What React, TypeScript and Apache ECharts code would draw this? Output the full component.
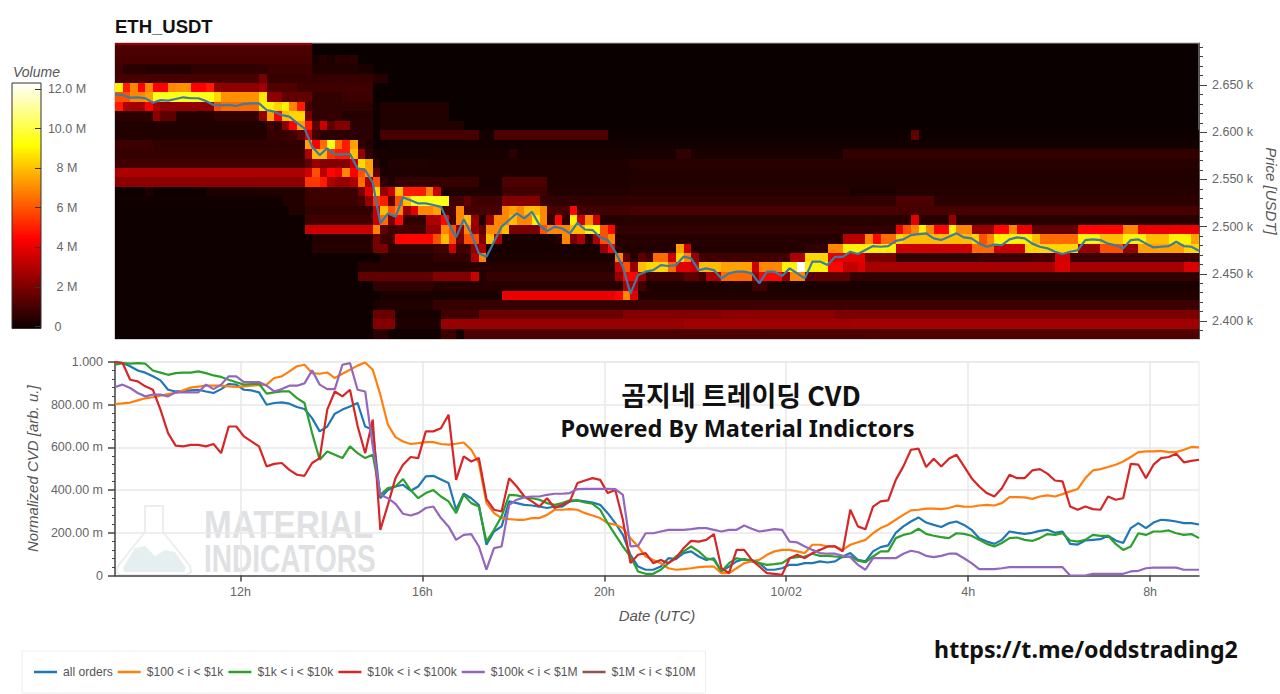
import React, { useEffect, useRef } from "react";
import * as echarts from "echarts";

// Time grid: one sample every 10 minutes, hours counted from 00:00 of the first day
const START_HOUR = 9.242;
const STEP_HOURS = 1 / 6;
const COLS = 143;
const END_HOUR = START_HOUR + COLS * STEP_HOURS;
const timeTicks = [12, 16, 20, 24, 28, 32];
const timeLabels = ["12h", "16h", "20h", "10/02", "4h", "8h"];

const priceLabels = [2400, 2450, 2500, 2550, 2600, 2650];
const priceMinorTicks = [2390, 2400, 2410, 2420, 2430, 2440, 2450, 2460, 2470, 2480, 2490, 2500, 2510, 2520, 2530, 2540, 2550, 2560, 2570, 2580, 2590, 2600, 2610, 2620, 2630, 2640, 2650, 2660, 2670, 2680, 2690];
const volumeTicks = [0, 2, 4, 6, 8, 10, 12];
const topBinCenter = 2697.1;
const binSize = 10;

// Volume (millions) per price bin, top bin first. Runs of [end column, volume].
const heatRows: number[][][] = [
  [[26, 2.6]],
  [[26, 1.2]],
  [[26, 1.1], [27, .3], [28, .5], [29, .3], [30, .6], [31, .5], [32, .6]],
  [[1, 1], [4, .6], [10, .5], [20, .7], [26, .9], [32, .4], [34, .3]],
  [[19, 1.1], [20, 2], [34, .8], [36, .5]],
  [[1, 9], [2, 5], [3, 7], [4, 4.5], [5, 7], [7, 4.5], [8, 7], [10, 7.2], [12, 4.5], [13, 5], [14, 2.6], [19, 2.4], [20, 2.8], [24, 1.3], [34, 1]],
  [[2, 6], [4, 7], [5, 7.5], [13, 9.5], [14, 8.5], [19, 7.2], [20, 8.8], [22, 2.4], [26, 1.6], [30, .7], [34, .9]],
  [[1, 5], [2, 3], [4, 2.8], [5, 4.5], [6, 3], [13, 2.5], [14, 6], [19, 6.5], [20, 9], [21, 9], [22, 8.5], [23, 9], [24, 7], [25, 5], [26, 1], [34, .7], [35, .1], [44, .4]],
  [[5, .6], [6, 2.4], [8, 1.5], [13, .5], [19, .7], [20, 2.5], [21, 7.5], [22, 4.5], [23, 8], [25, 8.5], [26, 2], [30, .7], [34, .5], [35, .1], [44, .4]],
  [[20, .4], [21, 1], [22, .6], [23, 2.4], [24, 4.5], [25, 7.5], [26, 5], [27, 1.5], [28, 3.5], [29, 1.5], [31, 2.2], [34, .6], [35, .05], [46, .4]],
  [[20, .4], [23, .8], [24, 1], [25, 1.5], [26, 3.5], [27, 1], [34, .6], [35, .1], [48, 1.1], [50, .15], [65, 1.2], [105, .05], [106, 1.6], [143, .05]],
  [[5, .9], [25, .7], [26, 7.5], [27, 4.5], [28, 6.5], [29, 9.5], [30, 6.5], [31, 5], [32, 7.5], [33, .7], [34, .4], [36, .05], [143, .15]],
  [[25, .8], [26, 3], [28, 8], [29, 5.5], [31, 5], [32, 8], [33, 2.5], [34, .7], [35, .25], [52, .25], [53, .6], [74, .25], [76, .7], [96, .3], [143, .75]],
  [[25, 1], [26, 1.6], [27, 2.6], [31, 2.2], [32, 3.5], [33, 8.5], [34, 7.5], [35, .6], [36, .15], [41, .4], [68, .35], [143, .55]],
  [[25, 3], [26, 3.6], [27, 6], [28, 3.2], [29, 4.6], [30, 4.2], [31, 7], [32, 4.5], [33, 6], [34, 7.5], [35, 1.5], [36, .3], [68, .35], [143, .45]],
  [[25, 2.4], [27, 5.5], [28, 5], [29, 3], [31, 2.6], [32, 3], [33, 6.5], [34, 3], [35, 6], [36, .7], [37, .35], [48, .8], [51, .3], [57, 1.2], [68, .35], [143, .4]],
  [[4, .05], [5, .35], [12, .05], [19, .35], [25, .45], [32, .9], [33, 2], [34, 4], [35, 8.5], [36, 2.6], [37, 3.6], [38, 8], [41, 5], [42, 7], [43, 3.6], [51, .4], [57, 1], [68, .45], [97, .55], [103, .3], [143, .5]],
  [[22, .1], [25, .45], [32, .9], [33, 1.1], [34, 2.6], [35, 5.5], [36, 5], [37, 1.5], [38, 6], [39, 8], [44, 9.5], [46, 1], [47, 1.6], [51, 1], [56, 2.2], [57, .8], [68, .7], [103, .7], [108, 1.2], [143, .6]],
  [[23, .05], [25, .45], [34, .7], [35, 3.6], [36, 8], [37, 6], [38, 7], [39, 2.6], [40, 4], [41, 7], [42, 7], [43, 7.5], [45, 1.1], [46, 7], [51, 1.1], [52, 7], [53, 7.5], [54, 7], [56, 8], [57, 7], [60, 1.1], [61, 4.6], [68, 1], [97, 1.1], [143, 1.1]],
  [[25, .05], [34, 1], [35, 3.5], [36, 6.5], [37, 2], [38, 4.6], [41, .7], [43, 3], [44, 4.6], [45, 1], [46, 7], [47, 8], [48, 2.6], [49, .5], [50, 2.6], [51, 7], [52, 7], [53, 8], [55, 7], [56, 9], [57, 7], [58, .7], [59, 4.6], [60, .7], [61, 9], [62, 3.6], [63, 7], [64, 3.6], [67, .5], [105, .55], [106, 4], [110, .55], [111, 2.6], [143, .55]],
  [[25, .05], [34, 3.6], [35, 7], [36, 1.5], [41, 1], [43, 2.6], [44, 7], [45, 6], [46, 2.6], [47, 7], [48, 2.6], [49, 1.5], [50, 7], [51, 7], [52, 8], [56, 2], [57, 6], [60, 7], [62, 8], [63, 9], [64, 9.5], [65, 6], [66, 4.6], [103, .7], [104, 4.2], [105, 6], [106, 7], [107, 9], [108, 7], [110, 4.6], [111, 9], [113, 7], [116, 2.6], [118, 4.6], [119, 7], [121, 4.2], [127, 1.6], [133, 4.6], [135, 7], [143, 4.2]],
  [[26, .05], [34, .45], [35, 2], [37, 1], [42, 4.6], [43, 6], [44, 8], [45, 6], [46, 2], [48, 6], [49, 2], [50, 8], [51, 3], [58, .25], [59, .5], [60, 7], [61, 2], [62, 3], [63, .5], [64, 3], [65, 6], [66, 7], [96, .5], [99, 3.2], [100, 7], [101, 4.6], [103, 6.5], [104, 8.5], [113, 8], [114, 8.5], [115, 6], [116, 7], [121, 9], [122, 8], [127, 6.5], [130, 9], [133, 8], [136, 9], [139, 8], [142, 9], [143, 7.5]],
  [[26, .05], [34, .5], [36, 2], [42, .7], [44, 1], [45, 3.6], [47, 1], [48, 2.6], [49, 3], [64, .25], [65, 2.6], [66, 4.6], [67, .5], [74, .45], [75, 7.5], [76, 3.6], [91, .45], [94, .7], [96, 7], [103, 9], [113, 3.6], [116, 6.5], [120, 3.6], [127, 8.5], [130, 2.6], [133, 6], [135, 2.6], [141, 7.5], [143, 8.5]],
  [[35, .05], [42, .5], [47, .7], [48, 3], [49, 7], [66, .3], [67, 7], [68, 1.5], [69, .5], [70, 1.5], [71, 1], [73, 6.5], [74, 3.6], [75, 8.5], [76, 7], [77, 2.6], [89, 1], [91, 3], [94, 8.5], [99, 4], [103, 2], [114, .7], [121, .9], [124, 1.1], [126, 3.8], [143, .9]],
  [[32, .05], [66, .5], [67, 3.6], [68, 6], [69, 2.6], [70, 8], [73, 8.5], [74, 6.5], [76, 4], [77, 3.6], [80, 8], [84, 7.5], [85, 3.6], [88, 7], [90, 9], [91, 12.4], [94, 9], [96, 4.6], [98, 3.4], [99, 3.8], [124, 2.9], [126, 3.8], [141, 2.9], [143, 3.8]],
  [[32, .05], [42, 1.6], [47, 2.2], [48, 3.6], [49, .5], [66, .8], [67, 2.6], [69, 4.6], [70, 2.6], [75, 1], [77, 1.5], [78, 1], [80, 3], [84, 6.5], [85, 2.6], [88, 4.6], [89, 2.6], [91, 7], [97, 1.5], [143, .7]],
  [[34, .05], [42, .7], [67, .5], [69, 3], [70, 1], [84, .35], [86, 1], [143, .3]],
  [[35, .05], [51, .3], [66, 4.2], [67, 4.6], [68, 7], [69, 4], [143, .4]],
  [[34, .05], [35, .3], [42, .4], [69, .8], [143, .9]],
  [[34, .05], [37, 1.8], [43, .25], [48, 1], [67, 1.8], [80, 2.2], [95, 2.4], [143, 2.1]],
  [[34, .05], [37, 2.2], [43, .35], [75, 2.6], [85, 2.75], [97, 2.7], [143, 2.75]],
  [[34, .05], [36, .6], [43, .1], [45, .9], [46, .1], [100, 1.2], [143, 1.3]],
  [[34, .05], [36, .6], [43, .1], [45, .9], [46, .1], [100, 1.2], [143, 1.3]],
];

const priceLine = [
  2640.1, 2639.4, 2636.6, 2637, 2636, 2631.3, 2634, 2633.4, 2635.2, 2637,
  2636, 2636, 2633, 2628.8, 2628.5, 2629, 2627.8, 2630, 2630.6, 2630.6,
  2623.5, 2621.8, 2618.2, 2616.5, 2610, 2604, 2584.7, 2575.8, 2583, 2576.5,
  2576.5, 2577, 2561.7, 2560, 2546.5, 2503.5, 2514, 2510.5, 2531, 2528,
  2524.6, 2524.6, 2522.9, 2521, 2503.5, 2488.6, 2507.7, 2492.9, 2471.7, 2468,
  2484, 2500, 2507, 2514, 2508.8, 2515.8, 2501.7, 2495.3, 2500, 2498,
  2492.9, 2504, 2497, 2496.4, 2488.6, 2485.8, 2473.4, 2457.6, 2429, 2448.7,
  2452.3, 2454, 2459.3, 2458.3, 2459.3, 2468.2, 2466.4, 2454, 2455.8, 2454,
  2445.2, 2450.5, 2452.3, 2452.3, 2450.5, 2440, 2452.3, 2452.3, 2447.7, 2455.8,
  2450.5, 2445.2, 2463, 2463, 2459.3, 2468, 2468, 2473.4, 2471, 2475.2,
  2479.4, 2478.7, 2479.4, 2485, 2486.5, 2491, 2492, 2492.9, 2487.6, 2485.8,
  2489.3, 2492.9, 2488.6, 2487.6, 2482, 2478.7, 2481, 2480.3, 2486.5, 2488.6,
  2487.6, 2482, 2478.7, 2477, 2473.4, 2471, 2473.4, 2475, 2485.8, 2486.5,
  2485.8, 2482, 2480.3, 2477, 2485.8, 2486.5, 2482, 2478, 2478.7, 2479.4,
  2484, 2479.4, 2478.7, 2474.5,
];

// Normalized CVD, in thousandths
const allOrders = [
  1000, 995, 980, 960, 950, 933, 914, 870, 862, 862,
  867, 870, 862, 855, 873, 897, 894, 870, 867, 858,
  800, 808, 811, 805, 789, 780, 737, 675, 698, 758,
  777, 792, 808, 698, 683, 362, 400, 417, 425, 397,
  417, 464, 467, 450, 433, 308, 383, 362, 330, 144,
  206, 230, 347, 339, 331, 328, 323, 316, 323, 323,
  347, 352, 347, 342, 331, 292, 245, 190, 97, 42,
  27, 27, 42, 81, 77, 105, 113, 89, 73, 81,
  19, 42, 66, 77, 66, 58, 27, 27, 34, 50,
  50, 58, 58, 66, 61, 66, 89, 105, 73, 66,
  113, 133, 141, 200, 230, 253, 272, 248, 237, 227,
  245, 253, 237, 214, 175, 159, 148, 167, 206, 200,
  195, 200, 209, 214, 200, 206, 148, 145, 164, 167,
  170, 186, 164, 152, 222, 245, 222, 248, 261, 258,
  253, 245, 245, 239,
];
const tier100to1k = [
  803, 806, 810, 820, 830, 835, 842, 850, 855, 867,
  880, 885, 889, 889, 889, 886, 883, 886, 889, 892,
  894, 925, 933, 956, 980, 987, 948, 945, 951, 925,
  945, 964, 983, 998, 964, 847, 706, 648, 628, 616,
  620, 625, 625, 616, 613, 617, 623, 589, 527, 340,
  292, 269, 264, 261, 261, 269, 269, 284, 308, 308,
  311, 308, 292, 281, 269, 245, 238, 222, 175, 136,
  89, 73, 58, 34, 27, 30, 34, 39, 42, 42,
  11, 11, 34, 58, 66, 73, 97, 113, 120, 120,
  113, 105, 144, 144, 136, 136, 120, 144, 156, 167,
  198, 222, 238, 261, 284, 305, 308, 313, 313, 311,
  316, 327, 323, 322, 328, 331, 328, 339, 367, 367,
  366, 359, 370, 375, 370, 381, 394, 405, 456, 492,
  498, 508, 519, 534, 555, 578, 581, 581, 584, 578,
  578, 589, 602, 600,
];
const tier1kto10k = [
  988, 995, 992, 995, 992, 960, 950, 940, 948, 950,
  950, 956, 948, 937, 930, 917, 905, 894, 897, 898,
  852, 858, 862, 862, 831, 808, 667, 542, 581, 566,
  550, 605, 573, 550, 566, 378, 409, 417, 452, 400,
  362, 386, 400, 370, 347, 292, 378, 339, 323, 159,
  214, 277, 378, 375, 367, 362, 355, 339, 331, 339,
  352, 352, 342, 336, 308, 245, 190, 136, 89, 19,
  8, 8, 27, 58, 89, 113, 136, 113, 81, 73,
  19, 58, 81, 73, 73, 58, 50, 53, 58, 81,
  86, 89, 102, 92, 92, 89, 86, 89, 70, 62,
  89, 113, 113, 175, 190, 198, 219, 195, 186, 180,
  175, 198, 195, 186, 167, 148, 136, 152, 175, 178,
  167, 162, 175, 194, 190, 198, 164, 159, 167, 190,
  186, 186, 148, 120, 136, 198, 190, 206, 206, 211,
  198, 190, 194, 175,
];
const tier10kto100k = [
  1000, 995, 917, 909, 886, 870, 777, 667, 608, 605,
  612, 612, 605, 616, 573, 698, 698, 652, 628, 605,
  511, 523, 527, 495, 472, 467, 527, 550, 777, 862,
  839, 870, 700, 573, 730, 214, 331, 456, 519, 555,
  550, 675, 675, 690, 753, 448, 558, 534, 550, 358,
  308, 300, 456, 417, 370, 347, 323, 362, 316, 331,
  347, 433, 445, 456, 448, 386, 400, 261, 58, 97,
  105, 58, 73, 58, 81, 128, 162, 159, 167, 194,
  34, 11, 120, 120, 73, 42, 11, 8, 3, 81,
  97, 81, 105, 120, 136, 136, 113, 308, 230, 217,
  323, 347, 352, 448, 511, 589, 594, 508, 547, 511,
  547, 566, 511, 456, 417, 386, 370, 409, 472, 456,
  456, 492, 498, 477, 445, 441, 323, 308, 323, 311,
  308, 370, 355, 362, 523, 519, 456, 519, 550, 555,
  570, 530, 537, 542,
];
const tier100kto1m = [
  883, 894, 878, 855, 839, 847, 847, 839, 858, 858,
  858, 858, 894, 873, 894, 933, 933, 906, 906, 906,
  889, 862, 873, 889, 889, 900, 961, 894, 873, 873,
  987, 995, 870, 862, 605, 378, 362, 336, 289, 281,
  292, 316, 323, 269, 230, 167, 190, 194, 136, 27,
  128, 136, 331, 355, 366, 370, 370, 378, 383, 383,
  386, 405, 406, 406, 406, 406, 405, 378, 136, 139,
  198, 198, 206, 214, 214, 214, 217, 222, 222, 214,
  206, 214, 214, 234, 219, 206, 211, 217, 214, 159,
  155, 136, 120, 105, 102, 102, 92, 86, 50, 27,
  81, 81, 81, 81, 102, 116, 109, 92, 86, 92,
  102, 102, 81, 58, 30, 30, 30, 34, 39, 39,
  39, 39, 39, 39, 39, 39, 0, 0, 0, 8,
  8, 8, 8, 8, 19, 22, 34, 37, 37, 37,
  37, 27, 27, 27,
];
const tier1mto10m: number[] = [];

const cvdNames = ["all orders", "$100 < i < $1k", "$1k < i < $10k", "$10k < i < $100k", "$100k < i < $1M", "$1M < i < $10M"];
const cvdColors = ["#1f77b4", "#ff7f0e", "#2ca02c", "#d62728", "#9467bd", "#8c564b"];
const cvdValues = [allOrders, tier100to1k, tier1kto10k, tier10kto100k, tier100kto1m, tier1mto10m];

const VOLUME_MAX = 12.4;
const hot = (t: number): string => {
  const c = Math.max(0, Math.min(1, t));
  const r = c < 0.365 ? 11 + (244 * c) / 0.365 : 255;
  const g = c < 0.365 ? 0 : c < 0.746 ? (255 * (c - 0.365)) / 0.381 : 255;
  const b = c < 0.746 ? 0 : (255 * (c - 0.746)) / 0.254;
  return `rgb(${Math.round(r)},${Math.round(g)},${Math.round(b)})`;
};

const axisGrey = "#666";
const sans = "'Liberation Sans', Arial, sans-serif";

export default function App() {
  const ref = useRef<HTMLDivElement>(null);
  useEffect(() => {
    if (!ref.current) return;
    const chart = echarts.init(ref.current, undefined, { renderer: "svg" });

    const heatData: number[][] = [];
    heatRows.forEach((runs, i) => {
      const price = topBinCenter - i * binSize;
      let from = 0;
      runs.forEach(([end, volume]) => {
        heatData.push([START_HOUR + from * STEP_HOURS, START_HOUR + end * STEP_HOURS, price, volume]);
        from = end;
      });
    });
    const hours = priceLine.map((_, c) => START_HOUR + c * STEP_HOURS);

    const barStops = [0, 0.1, 0.2, 0.3, 0.365, 0.5, 0.6, 0.7, 0.746, 0.85, 1].map((t) => ({
      offset: 1 - t,
      color: hot(t),
    })).reverse();

    const timeAxis = {
      type: "value",
      min: START_HOUR,
      max: END_HOUR,
    };
    const nameStyle = { fontFamily: sans, fontSize: 15, fontStyle: "italic", color: "#555" };

    const option: any = {
      animation: false,
      backgroundColor: "#fff",
      title: {
        text: "ETH_USDT",
        left: 115,
        top: 17,
        padding: 0,
        textStyle: { fontFamily: sans, fontSize: 18.5, fontWeight: "bold", color: "#111" },
      },
      legend: {
        left: 22,
        top: 651,
        orient: "horizontal",
        padding: [15, 10, 15, 12],
        itemGap: 5,
        itemWidth: 23,
        itemHeight: 2.5,
        icon: "rect",
        borderColor: "#eeeeee",
        borderWidth: 1,
        backgroundColor: "#fff",
        data: cvdNames,
        textStyle: { fontFamily: sans, fontSize: 12.1, color: "#555", padding: [0, 0, 0, 1] },
      },
      grid: [
        { left: 115, top: 43, width: 1084, height: 296, show: true, backgroundColor: "#0b0000", borderColor: "#aaa", borderWidth: 1, outerBoundsMode: "none" },
        { left: 115, top: 362, width: 1084, height: 213.5, show: true, borderColor: "#e8e8e8", borderWidth: 1, outerBoundsMode: "none" },
        { left: 12, top: 83, width: 29, height: 245.5, show: false, outerBoundsMode: "none" },
      ],
      xAxis: [
        { ...timeAxis, gridIndex: 0, show: false },
        {
          ...timeAxis,
          gridIndex: 1,
          name: "Date (UTC)",
          nameLocation: "middle",
          nameGap: 32,
          nameTextStyle: nameStyle,
          axisLine: { show: true, lineStyle: { color: "#444", width: 1.5 } },
          axisTick: { show: true, customValues: timeTicks, length: 6, lineStyle: { color: "#444", width: 1.5 } },
          axisLabel: {
            customValues: timeTicks,
            margin: 10,
            fontFamily: sans,
            fontSize: 12.5,
            color: axisGrey,
            formatter: (v: number) => timeLabels[timeTicks.indexOf(Math.round(v))],
          },
          splitLine: { show: true, lineStyle: { color: "#e8e8e8", width: 1.5 } },
        },
        { gridIndex: 2, type: "value", min: 0, max: 1, show: false },
      ],
      yAxis: [
        {
          gridIndex: 0,
          type: "value",
          position: "right",
          min: 2381,
          max: 2694.5,
          axisLine: { show: true, onZero: false, lineStyle: { color: "#555", width: 1 } },
          axisTick: { show: true, customValues: priceMinorTicks, length: 4, lineStyle: { color: "#444" } },
          axisLabel: { show: false },
          splitLine: { show: false },
        },
        {
          gridIndex: 0,
          type: "value",
          position: "right",
          min: 2381,
          max: 2694.5,
          name: "Price [USDT]",
          nameLocation: "middle",
          nameRotate: -90,
          nameGap: 63,
          nameTextStyle: nameStyle,
          axisLine: { show: false, onZero: false },
          axisTick: { show: true, customValues: priceLabels, length: 8, lineStyle: { color: "#444" } },
          axisLabel: {
            customValues: priceLabels,
            margin: 13,
            fontFamily: sans,
            fontSize: 12.5,
            color: axisGrey,
            formatter: (v: number) => (v / 1000).toFixed(3) + " k",
          },
          splitLine: { show: false },
        },
        {
          gridIndex: 1,
          type: "value",
          min: 0,
          max: 1,
          interval: 0.2,
          name: "Normalized CVD [arb. u.]",
          nameLocation: "middle",
          nameRotate: 90,
          nameGap: 75,
          nameTextStyle: nameStyle,
          axisLine: { show: true, onZero: false, lineStyle: { color: "#444", width: 1.5 } },
          axisTick: { show: true, length: 7, lineStyle: { color: "#444", width: 1.5 } },
          minorTick: { show: true, splitNumber: 5, length: 3, lineStyle: { color: "#444" } },
          axisLabel: {
            margin: 12,
            fontFamily: sans,
            fontSize: 12.5,
            color: axisGrey,
            formatter: (v: number) => (v === 0 ? "0" : v >= 1 ? "1.000" : (v * 1000).toFixed(2) + " m"),
          },
          splitLine: { show: true, lineStyle: { color: "#e8e8e8", width: 1.5 } },
        },
        {
          gridIndex: 2,
          type: "value",
          position: "right",
          min: -0.1,
          max: 12.3,
          z: 10,
          axisLine: { show: false, onZero: false },
          axisTick: { show: true, inside: true, customValues: volumeTicks, length: 6, lineStyle: { color: "#333" } },
          axisLabel: {
            customValues: volumeTicks,
            align: "center",
            margin: 26,
            fontFamily: sans,
            fontSize: 12.5,
            color: axisGrey,
            formatter: (v: number) => (v === 0 ? "{z|0}" : v >= 10 ? v.toFixed(1) + " M" : v + " M"),
            rich: { z: { padding: [0, 18, 0, 0], fontFamily: sans, fontSize: 12.5, color: axisGrey } },
          },
          splitLine: { show: false },
        },
      ],
      graphic: [
        { type: "polygon", z: 0, silent: true, shape: { points: [[145, 506], [163, 506], [163, 532], [190, 566], [191, 572], [186, 575], [120, 575], [116, 572], [118, 566], [145, 532]] }, style: { fill: "none", stroke: "#ecedee", lineWidth: 2 } },
        { type: "polygon", z: 0, silent: true, shape: { points: [[124, 572], [184, 572], [186, 568], [175, 552], [165, 550], [155, 556], [145, 546], [135, 548], [123, 568]] }, style: { fill: "#e6eff0" } },
        { type: "text", z: 0, silent: true, x: 204, y: 505, scaleX: 0.95, scaleY: 1.1, style: { text: "MATERIAL", fontFamily: sans, fontWeight: "bold", fontSize: 35, fill: "#dfe1e3" } },
        { type: "text", z: 0, silent: true, x: 204, y: 540, scaleX: 0.8, scaleY: 1.1, style: { text: "INDICATORS", fontFamily: sans, fontWeight: "bold", fontSize: 35, fill: "#dfe1e3" } },
        { type: "text", z: 50, x: 741, y: 394, style: { text: "곰지네 트레이딩 CVD", align: "center", verticalAlign: "middle", fontFamily: "'Noto Sans CJK KR', sans-serif", fontWeight: "bold", fontSize: 27, fill: "#111" } },
        { type: "text", z: 50, x: 737.5, y: 428, style: { text: "Powered By Material Indictors", align: "center", verticalAlign: "middle", fontFamily: "'Noto Sans', sans-serif", fontWeight: "bold", fontSize: 23.5, fill: "#111" } },
        { type: "text", z: 50, x: 1086, y: 649, style: { text: "https://t.me/oddstrading2", align: "center", verticalAlign: "middle", fontFamily: "'Noto Sans', sans-serif", fontWeight: "bold", fontSize: 23.2, fill: "#111" } },
        { type: "text", z: 50, x: 13, y: 65, style: { text: "Volume", fontFamily: sans, fontStyle: "italic", fontSize: 14, fill: "#555" } },
      ],
      series: [
        {
          type: "custom",
          xAxisIndex: 0,
          yAxisIndex: 0,
          silent: true,
          clip: true,
          data: heatData,
          encode: { x: [0, 1], y: 2 },
          renderItem: (_: any, api: any) => {
            const a = api.coord([api.value(0), api.value(2) + binSize / 2]);
            const b = api.coord([api.value(1), api.value(2) - binSize / 2]);
            const x = Math.round(a[0]);
            const y = Math.round(a[1]);
            return {
              type: "rect",
              shape: { x, y, width: Math.round(b[0]) - x, height: Math.round(b[1]) - y },
              style: { fill: hot(api.value(3) / VOLUME_MAX) },
            };
          },
        },
        {
          type: "line",
          name: "price",
          xAxisIndex: 0,
          yAxisIndex: 0,
          symbol: "none",
          data: priceLine.map((p, c) => [hours[c], p]),
          lineStyle: { color: "#3a7ca5", width: 2.2 },
          z: 5,
        },
        {
          type: "custom",
          xAxisIndex: 2,
          yAxisIndex: 3,
          silent: true,
          data: [[0, 1, -0.1, 12.3]],
          encode: { x: [0, 1], y: [2, 3] },
          renderItem: (_: any, api: any) => {
            const a = api.coord([api.value(0), api.value(3)]);
            const b = api.coord([api.value(1), api.value(2)]);
            return {
              type: "rect",
              shape: { x: a[0], y: a[1], width: b[0] - a[0], height: b[1] - a[1] },
              style: { fill: new echarts.graphic.LinearGradient(0, 0, 0, 1, barStops), stroke: "#333", lineWidth: 1 },
            };
          },
        },
        ...cvdNames.map((name, s) => ({
          type: "line",
          name,
          xAxisIndex: 1,
          yAxisIndex: 2,
          symbol: "none",
          color: cvdColors[s],
          itemStyle: { color: cvdColors[s] },
          lineStyle: { color: cvdColors[s], width: 2.2 },
          data: cvdValues[s].map((v, c) => [hours[c], v / 1000]),
        })),
      ],
    };
    chart.setOption(option);
    return () => chart.dispose();
  }, []);
  return <div ref={ref} style={{ position: "absolute", left: 0, top: 0, width: 1280, height: 694 }} />;
}
